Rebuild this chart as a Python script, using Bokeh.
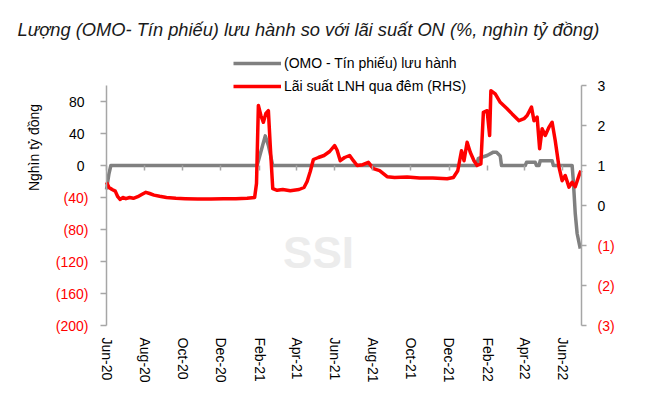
import pandas as pd
from math import pi
from bokeh.plotting import figure
from bokeh.models import (Range1d, LinearAxis, DatetimeAxis, FixedTicker, Label,
                          Legend, LegendItem, CustomJSTickFormatter)
from bokeh.embed import file_html
from bokeh.resources import INLINE

# ---------------- data ----------------
title_text = "Lượng (OMO- Tín phiếu) lưu hành so với lãi suất ON (%, nghìn tỷ đồng)"
series_omo_name = "(OMO - Tín phiếu) lưu hành"
series_rate_name = "Lãi suất LNH qua đêm (RHS)"
left_axis_title = "Nghìn tỷ đồng"
watermark = "SSI"

omo_dates = ["2020-06-01", "2020-06-05", "2020-06-08", "2021-01-28", "2021-02-04", "2021-02-10",
             "2021-02-15", "2021-02-22", "2022-01-14", "2022-01-17", "2022-01-31", "2022-02-10",
             "2022-02-15", "2022-02-21", "2022-02-23", "2022-04-02", "2022-04-04", "2022-04-18",
             "2022-04-20", "2022-04-24", "2022-04-26", "2022-05-15", "2022-05-17", "2022-06-16",
             "2022-06-18", "2022-06-21", "2022-06-24", "2022-06-29"]
omo_values = [-30, -10, 0, 0, 20, 37,
              25, 0, 0, 9, 12.5, 16.7,
              16.7, 12, 0, 0, 4, 4,
              0, 0, 6, 6, 0, 0,
              -20, -60, -85, -104]

rate_dates = ["2020-06-01", "2020-06-05", "2020-06-10", "2020-06-15", "2020-06-19", "2020-06-23",
              "2020-06-27", "2020-07-02", "2020-07-08", "2020-07-14", "2020-07-21", "2020-07-28",
              "2020-08-03", "2020-08-09", "2020-08-16", "2020-08-25", "2020-09-05", "2020-09-20",
              "2020-10-05", "2020-10-25", "2020-11-15", "2020-12-05", "2020-12-25", "2021-01-12",
              "2021-01-24", "2021-01-27", "2021-01-30", "2021-02-03", "2021-02-07", "2021-02-11",
              "2021-02-15", "2021-02-18", "2021-02-22", "2021-03-01", "2021-03-10", "2021-03-22",
              "2021-04-05", "2021-04-13", "2021-04-18", "2021-04-23", "2021-04-28", "2021-05-06",
              "2021-05-15", "2021-05-24", "2021-06-01", "2021-06-05", "2021-06-10", "2021-06-17",
              "2021-06-25", "2021-07-01", "2021-07-07", "2021-07-16", "2021-07-25", "2021-08-02",
              "2021-08-12", "2021-08-24", "2021-09-05", "2021-09-25", "2021-10-15", "2021-11-05",
              "2021-11-28", "2021-12-08", "2021-12-15", "2021-12-21", "2021-12-25", "2021-12-30",
              "2022-01-04", "2022-01-10", "2022-01-15", "2022-01-21", "2022-01-25", "2022-01-31",
              "2022-02-04", "2022-02-06", "2022-02-13", "2022-02-21", "2022-03-04", "2022-03-12",
              "2022-03-23", "2022-03-31", "2022-04-05", "2022-04-12", "2022-04-16", "2022-04-21",
              "2022-04-25", "2022-04-29", "2022-05-04", "2022-05-10", "2022-05-15", "2022-05-20",
              "2022-05-26", "2022-05-31", "2022-06-05", "2022-06-11", "2022-06-16", "2022-06-21",
              "2022-06-27", "2022-06-30"]
rate_values = [0.58, 0.45, 0.40, 0.36, 0.22, 0.15,
               0.20, 0.17, 0.20, 0.18, 0.22, 0.28,
               0.33, 0.30, 0.26, 0.23, 0.20, 0.18,
               0.17, 0.16, 0.16, 0.17, 0.17, 0.18,
               0.20, 0.55, 2.50, 2.25, 2.08, 2.30,
               2.37, 1.50, 0.42, 0.38, 0.40, 0.37,
               0.40, 0.45, 0.60, 0.85, 1.15, 1.20,
               1.25, 1.35, 1.50, 1.38, 1.12, 1.20,
               1.25, 1.12, 1.00, 1.02, 1.08, 0.92,
               0.87, 0.72, 0.70, 0.71, 0.69, 0.69,
               0.67, 0.70, 0.87, 1.37, 1.12, 1.58,
               1.33, 1.12, 1.00, 1.04, 2.33, 2.37,
               1.75, 2.87, 2.79, 2.58, 2.42, 2.29,
               2.12, 2.17, 2.25, 2.46, 2.12, 2.21,
               1.42, 1.92, 1.75, 1.96, 2.08, 1.62,
               0.96, 0.62, 0.75, 0.46, 0.58, 0.47,
               0.75, 0.87]

x_tick_dates = ["2020-06-01", "2020-08-01", "2020-10-01", "2020-12-01", "2021-02-01", "2021-04-01",
                "2021-06-01", "2021-08-01", "2021-10-01", "2021-12-01", "2022-02-01", "2022-04-01",
                "2022-06-01"]
x_tick_labels = ["Jun-20", "Aug-20", "Oct-20", "Dec-20", "Feb-21", "Apr-21", "Jun-21", "Aug-21",
                 "Oct-21", "Dec-21", "Feb-22", "Apr-22", "Jun-22"]
x_start, x_end = "2020-06-01", "2022-07-01"

left_ticks = [-200, -160, -120, -80, -40, 0, 40, 80]
left_labels = ["(200)", "(160)", "(120)", "(80)", "(40)", "0", "40", "80"]
left_min, left_max = -200, 100
right_ticks = [-3, -2, -1, 0, 1, 2, 3]
right_labels = ["(3)", "(2)", "(1)", "0", "1", "2", "3"]
right_min, right_max = -3, 3

# ---------------- styling / layout ----------------
FONT = "Liberation Sans"
GRAY = "#808080"
RED = "#FF0000"
AXIS_GRAY = "#A6A6A6"
W, H = 650, 395
# page pixels of the plotting area (the frame covers the whole canvas, so that
# texts around the plotting area are not clipped)
PL, PR, PT, PB = 106, 581, 85, 325


def ms(d):
    return int(pd.Timestamp(d).value // 10**6)


x0, x1 = ms(x_start), ms(x_end)
xpx = (PR - PL) / (x1 - x0)
lpx = (PB - PT) / (left_max - left_min)
rpx = (PB - PT) / (right_max - right_min)
x_range = Range1d(x0 - PL / xpx, x1 + (W - PR) / xpx)
y_range = Range1d(left_min - (H - PB) / lpx, left_max + PT / lpx)
r_range = Range1d(right_min - (H - PB) / rpx, right_max + PT / rpx)

p = figure(width=W, height=H, output_backend="svg", toolbar_location=None,
           x_axis_location=None, y_axis_location=None, title_location=None,
           x_range=x_range, y_range=y_range, min_border=0)
p.extra_y_ranges = {"right": r_range}
p.outline_line_color = None
p.background_fill_color = "white"
p.border_fill_color = "white"
for g in p.grid:
    g.visible = False

empty = CustomJSTickFormatter(code="return ''")
tick_ms = [ms(d) for d in x_tick_dates]

# bottom axis (labels only)
xa = DatetimeAxis(fixed_location=left_min, ticker=FixedTicker(ticks=tick_ms),
                  major_label_overrides={t: lab for t, lab in zip(tick_ms, x_tick_labels)},
                  major_label_orientation="vertical", axis_line_color=None,
                  major_tick_line_color=None, minor_tick_line_color=None,
                  major_tick_out=4, major_tick_in=0, major_label_standoff=8,
                  major_label_text_font=FONT, major_label_text_font_size="14px",
                  major_label_text_color="#000000")
p.add_layout(xa, "below")

# zero-line tick marks
za = DatetimeAxis(fixed_location=0, ticker=FixedTicker(ticks=tick_ms), formatter=empty,
                  axis_line_color=None, major_tick_in=5, major_tick_out=0,
                  major_tick_line_color=AXIS_GRAY, major_tick_line_width=1.5,
                  minor_tick_line_color=None, major_label_standoff=0)
p.add_layout(za, "above")

# left axis: line, ticks and non-negative (black) labels
ya = LinearAxis(fixed_location=x0, bounds=(left_min, left_max), ticker=FixedTicker(ticks=left_ticks),
                major_label_overrides={v: (lab if v >= 0 else "") for v, lab in zip(left_ticks, left_labels)},
                axis_line_color=AXIS_GRAY, axis_line_width=1.5,
                major_tick_line_color=AXIS_GRAY, major_tick_line_width=1.5,
                major_tick_out=6, major_tick_in=0, minor_tick_line_color=None,
                major_label_standoff=16, major_label_text_font=FONT,
                major_label_text_font_size="14px", major_label_text_color="#000000")
p.add_layout(ya, "left")
# left axis: negative (red) labels
yb = LinearAxis(fixed_location=x0, bounds=(left_min, left_max), ticker=FixedTicker(ticks=left_ticks),
                major_label_overrides={v: (lab if v < 0 else "") for v, lab in zip(left_ticks, left_labels)},
                axis_line_color=None, major_tick_line_color=None, minor_tick_line_color=None,
                major_tick_out=6, major_tick_in=0, major_label_standoff=12,
                major_label_text_font=FONT, major_label_text_font_size="14px",
                major_label_text_color=RED)
p.add_layout(yb, "left")

# right axis: line, ticks and non-negative labels
ra = LinearAxis(y_range_name="right", fixed_location=x1, bounds=(right_min, right_max),
                ticker=FixedTicker(ticks=right_ticks),
                major_label_overrides={v: (lab if v >= 0 else "") for v, lab in zip(right_ticks, right_labels)},
                axis_line_color=AXIS_GRAY, axis_line_width=1.5, major_tick_line_color=AXIS_GRAY,
                major_tick_line_width=1.5, major_tick_out=5, major_tick_in=0,
                minor_tick_line_color=None, major_label_standoff=11,
                major_label_text_font=FONT, major_label_text_font_size="14px",
                major_label_text_color="#000000")
p.add_layout(ra, "right")
# right axis: negative (red) labels
rb = LinearAxis(y_range_name="right", fixed_location=x1, bounds=(right_min, right_max),
                ticker=FixedTicker(ticks=right_ticks),
                major_label_overrides={v: (lab if v < 0 else "") for v, lab in zip(right_ticks, right_labels)},
                axis_line_color=None, major_tick_line_color=None, minor_tick_line_color=None,
                major_tick_out=5, major_tick_in=0, major_label_standoff=11,
                major_label_text_font=FONT, major_label_text_font_size="14px",
                major_label_text_color=RED)
p.add_layout(rb, "right")

# texts (screen units, from the bottom-left corner of the canvas)
p.add_layout(Label(x=17, y=H - 29, x_units="screen", y_units="screen", text=title_text,
                   text_font=FONT, text_font_size="18.3px", text_font_style="italic",
                   text_color="#1A1A1A", text_baseline="alphabetic", text_align="left"))
p.add_layout(Label(x=33, y=H - 147, x_units="screen", y_units="screen", text=left_axis_title,
                   angle=pi / 2, text_align="center", text_baseline="middle",
                   text_font=FONT, text_font_size="14px", text_color="#000000"))
p.add_layout(Label(x=318, y=H - 252, x_units="screen", y_units="screen", text=watermark,
                   text_font=FONT, text_font_size="44px", text_font_style="bold",
                   text_color="#ECECEC", text_align="center", text_baseline="middle",
                   level="underlay"))

# series
omo_x = pd.to_datetime(omo_dates)
rate_x = pd.to_datetime(rate_dates)
r_omo = p.line(omo_x, omo_values, line_color=GRAY, line_width=3.5, line_join="round")
r_rate = p.line(rate_x, rate_values, line_color=RED, line_width=3.5, line_join="round",
                y_range_name="right")

# legend
legend = Legend(items=[LegendItem(label=series_omo_name, renderers=[r_omo]),
                       LegendItem(label=series_rate_name, renderers=[r_rate])],
                location=(233, H - 96), orientation="vertical",
                border_line_color=None, background_fill_alpha=0, padding=0, margin=0,
                spacing=3, glyph_width=48, glyph_height=20, label_height=20, label_standoff=3,
                label_text_font=FONT, label_text_font_size="14px", label_text_color="#000000")
p.add_layout(legend)

open("out.html", "w").write(file_html(p, INLINE))
